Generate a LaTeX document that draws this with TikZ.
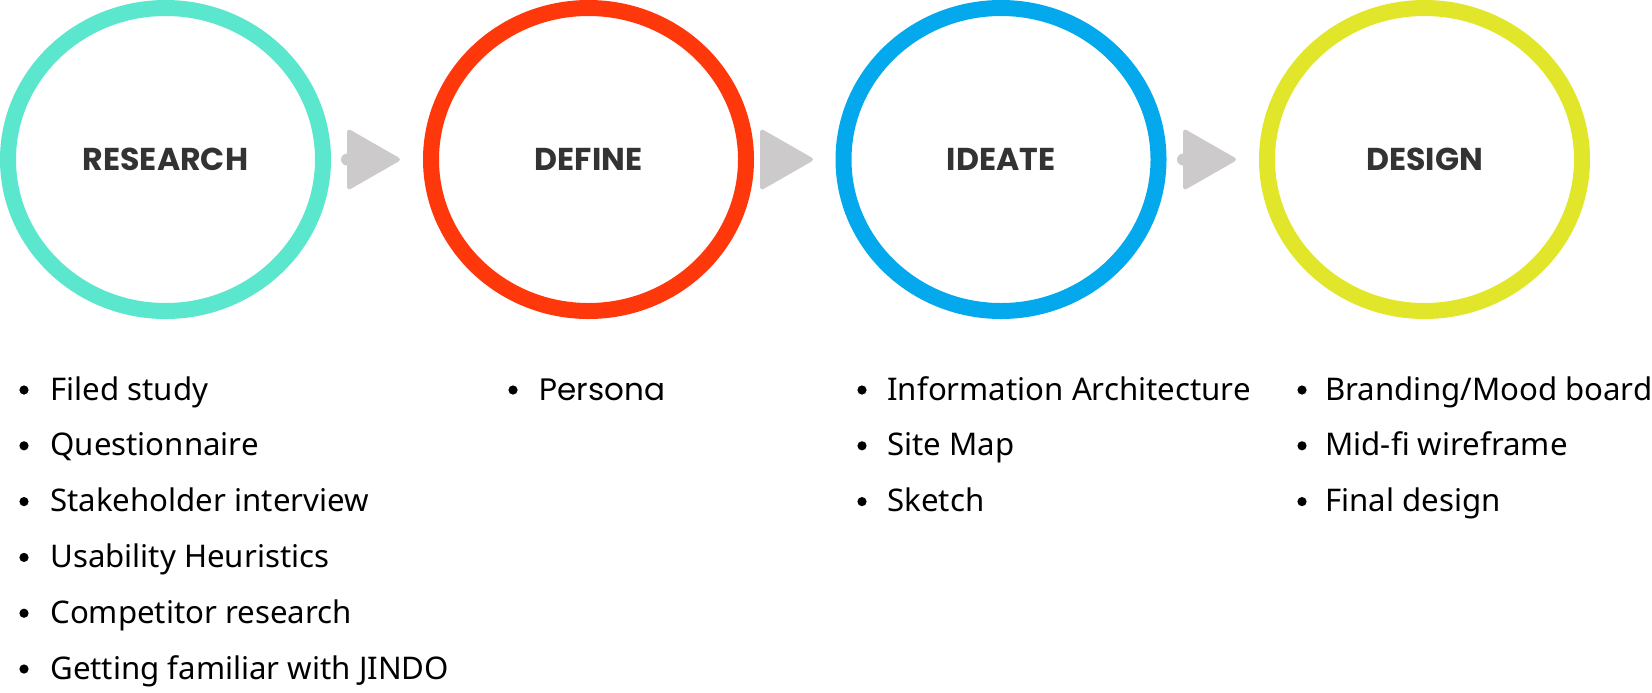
\documentclass[tikz,border=0pt]{standalone}
\usepackage{fontspec}
\setmainfont{Noto Sans}
\newfontfamily\popfont{Poppins}
\usepackage{tikz}
\usetikzlibrary{shapes.geometric}
\definecolor{tealring}{HTML}{5BE7CD}
\definecolor{redring}{HTML}{FF380B}
\definecolor{bluering}{HTML}{03A9EC}
\definecolor{limering}{HTML}{E2E62A}
\definecolor{arrowgray}{HTML}{CCCACB}
\definecolor{headgray}{HTML}{333333}

\begin{document}
\begin{tikzpicture}[x=0.5pt,y=-0.5pt,
  phase/.style={ellipse,draw=#1,line width=8pt,minimum width=157.5pt,minimum height=151.5pt,inner sep=0pt,font=\popfont\bfseries\fontsize{15.8}{19}\selectfont,text=headgray},
  tri/.style={fill=arrowgray,rounded corners=2pt},
  item/.style={anchor=base west,inner sep=0pt,font=\fontsize{15.6}{18}\selectfont}]
\useasboundingbox (0,0) rectangle (1652,692);
\node[phase=tealring] (research) at (165.5,159.5) {RESEARCH};
\node[phase=redring] (define) at (588.5,159.5) {DEFINE};
\node[phase=bluering] (ideate) at (1001,159.5) {IDEATE};
\node[phase=limering] (design) at (1424.5,159.5) {DESIGN};
\foreach \x/\nub [count=\i] in {347/1,760/0,1183/1}{
  \coordinate (tip\i) at (\x+55,159.5);
  \fill[tri] (\x,128) -- (tip\i) -- (\x,191) -- cycle;
  \ifnum\nub=1 \fill[arrowgray] (\x,159.5) circle (3pt);\fi
}
\foreach \t [count=\i from 0] in {Filed study,Questionnaire,Stakeholder interview,Usability Heuristics,Competitor research,Getting familiar with JINDO}{
  \node[item] (res\i) at (50,400+55.8*\i) {\t};
  \fill (24,390+55.8*\i) circle (2.3pt);
}
\node[item,font=\popfont\fontsize{15.5}{18}\selectfont] (def0) at (539,400) {Persona};
\fill (513,390) circle (2.3pt);
\foreach \t [count=\i from 0] in {Information Architecture,Site Map,Sketch}{
  \node[item] (ide\i) at (887,400+55.8*\i) {\t};
  \fill (862,390+55.8*\i) circle (2.3pt);
}
\foreach \t [count=\i from 0] in {Branding/Mood board,Mid-fi wireframe,Final design}{
  \node[item] (des\i) at (1325,400+55.8*\i) {\t};
  \fill (1302,390+55.8*\i) circle (2.3pt);
}
\end{tikzpicture}
\end{document}
